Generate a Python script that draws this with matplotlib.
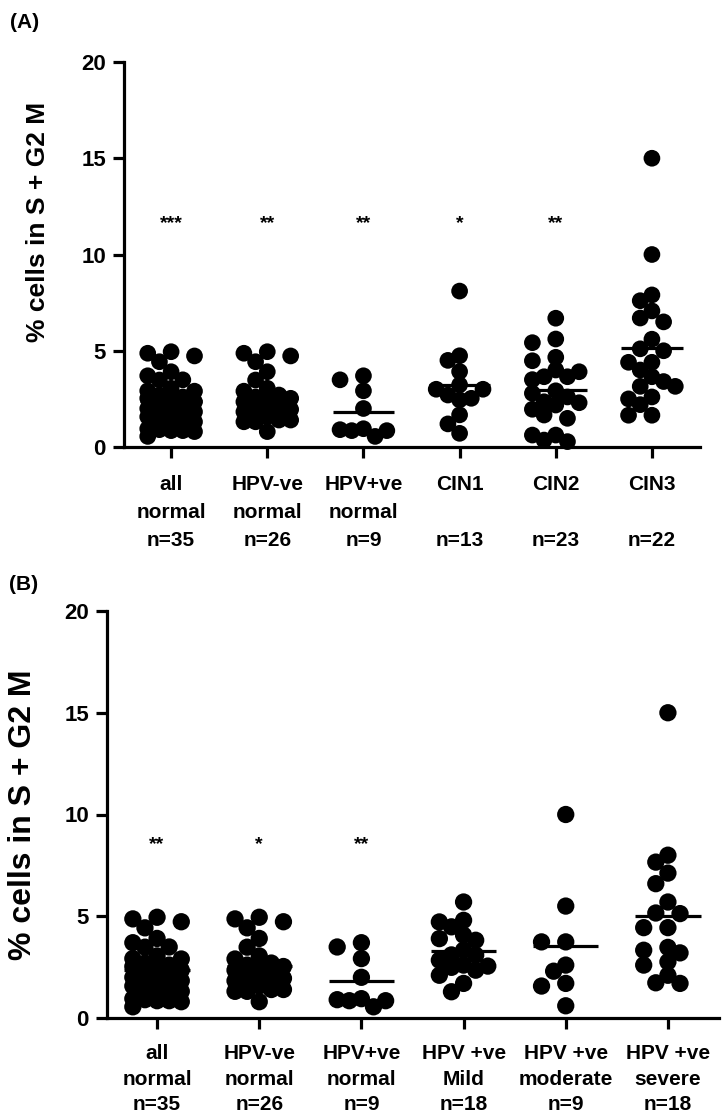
import numpy as np
import matplotlib
matplotlib.use("Agg")
import matplotlib.pyplot as plt

plt.rcParams['font.family'] = ['Liberation Sans', 'DejaVu Sans']
plt.rcParams['font.weight'] = 'bold'

# ---------------- data ----------------
hpv_neg_normal = [4.95, 4.87, 4.73, 4.43, 3.91, 3.48, 3.05, 2.9, 2.7, 2.6, 2.53, 2.53, 2.35,
                  2.35, 2.2, 2.09, 1.95, 1.83, 1.83, 1.7, 1.57, 1.4, 1.4, 1.31, 1.31, 0.8]
hpv_pos_normal = [3.7, 3.49, 2.92, 2.0, 0.95, 0.9, 0.55, 0.85, 0.85]
all_normal = hpv_neg_normal + hpv_pos_normal
cin1 = [8.1, 4.74, 4.5, 3.92, 3.23, 3.0, 3.0, 2.7, 2.45, 2.53, 1.67, 1.2, 0.71]
cin2 = [6.69, 5.42, 5.61, 4.66, 4.48, 3.65, 3.91, 4.0, 3.65, 3.5, 2.92, 2.79, 2.6, 2.3,
        2.18, 2.35, 1.96, 1.66, 1.49, 0.62, 0.28, 0.62, 0.36]
cin3 = [15.0, 10.0, 7.9, 7.6, 7.07, 6.7, 6.5, 5.6, 5.1, 5.0, 4.4, 4.4, 4.0, 3.65, 3.4,
        3.15, 3.15, 2.6, 2.5, 2.2, 1.65, 1.65]
hpv_mild = [5.7, 4.72, 4.8, 4.48, 4.07, 3.82, 3.9, 3.33, 3.09, 3.1, 2.84, 2.6, 2.49, 2.55,
            2.35, 2.1, 1.7, 1.29]
hpv_moderate = [10.0, 5.5, 3.74, 3.74, 2.6, 2.3, 1.7, 1.57, 0.6]
hpv_severe = [15.0, 8.0, 7.66, 7.12, 6.6, 5.7, 5.13, 5.16, 4.44, 4.44, 3.47, 3.33, 3.2,
              2.76, 2.6, 2.1, 1.7, 1.73]

labels_a = ["all\nnormal\nn=35", "HPV-ve\nnormal\nn=26", "HPV+ve\nnormal\nn=9",
            "CIN1\n\nn=13", "CIN2\n\nn=23", "CIN3\n\nn=22"]
labels_b = ["all\nnormal\nn=35", "HPV-ve\nnormal\nn=26", "HPV+ve\nnormal\nn=9",
            "HPV +ve\nMild\nn=18", "HPV +ve\nmoderate\nn=9", "HPV +ve\nsevere\nn=18"]
stars_a = ["***", "**", "**", "*", "**", ""]
stars_b = ["**", "*", "**", "", "", ""]
groups_a = [all_normal, hpv_neg_normal, hpv_pos_normal, cin1, cin2, cin3]
groups_b = [all_normal, hpv_neg_normal, hpv_pos_normal, hpv_mild, hpv_moderate, hpv_severe]
yticks = [0, 5, 10, 15, 20]
ylabel = "% cells in S + G2 M"

W, H = 727, 1119
fig = plt.figure(figsize=(W / 100, H / 100), dpi=100)


def px_rect(l, t, r, b):
    return [l / W, 1 - b / H, (r - l) / W, (b - t) / H]


def swarm_x(ax, values, center, diam_px):
    vals = np.asarray(values, dtype=float)
    pts = ax.transData.transform(np.column_stack([np.full(len(vals), center), vals]))
    cx = pts[0, 0]
    ys = pts[:, 1]
    step = 0.7 * diam_px
    min_d = 0.75 * diam_px
    cands = [0, -1, 1, -2, 2]
    order = np.argsort(-vals, kind="stable")
    placed = []
    xs = np.zeros(len(vals))
    for i in order:
        chosen = None
        best_x, best_d = cx, -1
        for k in cands:
            x = cx + k * step
            d = min((np.hypot(x - px, ys[i] - py) for px, py in placed), default=np.inf)
            if d >= min_d:
                chosen = x
                break
            if d > best_d + 0.5:
                best_d, best_x = d, x
        if chosen is None:
            chosen = best_x
        placed.append((chosen, ys[i]))
        xs[i] = chosen
    return ax.transData.inverted().transform(np.column_stack([xs, ys]))[:, 0]


def panel(rect, groups, labels, stars, star_y, diam_px, ylab_pos, ylab_size,
          letter, letter_pos, linesp, xpad):
    ax = fig.add_axes(rect)
    ax.set_xlim(-0.49, 5.5)
    ax.set_ylim(0, 20)
    for s in ["top", "right"]:
        ax.spines[s].set_visible(False)
    for s in ["left", "bottom"]:
        ax.spines[s].set_linewidth(2.3)
    ax.set_yticks(yticks)
    ax.set_yticklabels([str(t) for t in yticks], fontsize=16, fontweight='bold')
    ax.set_xticks(range(len(labels)))
    ax.set_xticklabels(labels, fontsize=15, fontweight='bold', linespacing=linesp)
    ax.tick_params(axis='both', length=8, width=2.3, color='black')
    ax.tick_params(axis='y', pad=5)
    ax.tick_params(axis='x', pad=xpad)
    ms = (diam_px * 72 / 100) ** 2
    for i, vals in enumerate(groups):
        xs = swarm_x(ax, vals, i, diam_px)
        ax.scatter(xs, vals, s=ms, color='black', edgecolors='none', zorder=3, clip_on=False)
        m = np.mean(vals)
        ax.hlines(m, i - 0.32, i + 0.32, color='black', linewidth=2.3, zorder=4)
        if stars[i]:
            ax.text(i, star_y, stars[i], ha='center', va='center', fontsize=14,
                    fontweight='bold')
    fig.text(ylab_pos[0] / W, 1 - ylab_pos[1] / H, ylabel, rotation=90,
             ha='center', va='center', fontsize=ylab_size, fontweight='bold')
    fig.text(letter_pos[0] / W, 1 - letter_pos[1] / H, letter, ha='center', va='center',
             fontsize=15, fontweight='bold')
    return ax


panel(px_rect(124, 62, 700, 447), groups_a, labels_a, stars_a, 11.6, 16.7,
      (38, 222), 19, "(A)", (25, 22), 1.62, 12)
panel(px_rect(107, 611, 719, 1018), groups_b, labels_b, stars_b, 8.5, 17.3,
      (23, 815), 23, "(B)", (24, 585), 1.42, 11)

fig.savefig("out.png", dpi=100)
